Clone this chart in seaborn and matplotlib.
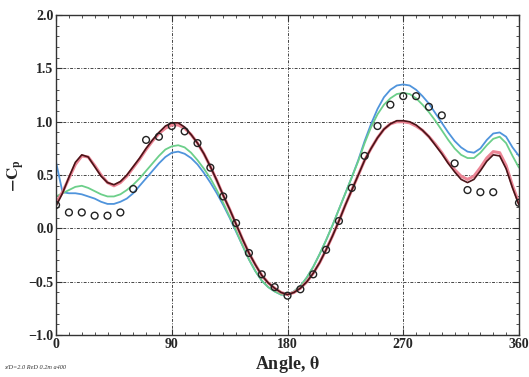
import numpy as np
import pandas as pd
import matplotlib
matplotlib.use("Agg")
import matplotlib.pyplot as plt
from matplotlib.ticker import MultipleLocator
import seaborn as sns

# curve angles, 5 degree steps
theta = list(range(0, 365, 5))

cp_dark = [0.21, 0.33, 0.48, 0.62, 0.69, 0.67, 0.58, 0.49, 0.43, 0.41,
           0.44, 0.50, 0.58, 0.66, 0.75, 0.83, 0.90, 0.96, 0.99, 0.99,
           0.95, 0.88, 0.80, 0.70, 0.58, 0.45, 0.31, 0.18, 0.04, -0.10,
           -0.23, -0.34, -0.44, -0.51, -0.56, -0.60, -0.62, -0.60, -0.56, -0.50,
           -0.42, -0.32, -0.20, -0.07, 0.07, 0.22, 0.36, 0.50, 0.64, 0.75,
           0.85, 0.93, 0.98, 1.01, 1.01, 1.00, 0.97, 0.92, 0.86, 0.78,
           0.70, 0.61, 0.53, 0.46, 0.43, 0.46, 0.54, 0.63, 0.69, 0.68,
           0.56, 0.38, 0.22]

cp_pink = [0.24, 0.34, 0.47, 0.60, 0.68, 0.67, 0.59, 0.50, 0.43, 0.40,
           0.43, 0.49, 0.57, 0.65, 0.74, 0.82, 0.89, 0.94, 0.97, 0.97,
           0.94, 0.88, 0.80, 0.70, 0.58, 0.45, 0.31, 0.18, 0.04, -0.10,
           -0.23, -0.34, -0.44, -0.51, -0.56, -0.60, -0.62, -0.60, -0.56, -0.50,
           -0.42, -0.32, -0.20, -0.07, 0.07, 0.22, 0.36, 0.50, 0.64, 0.75,
           0.85, 0.93, 0.98, 1.00, 1.00, 0.99, 0.96, 0.92, 0.86, 0.79,
           0.71, 0.62, 0.55, 0.49, 0.46, 0.49, 0.57, 0.66, 0.72, 0.71,
           0.59, 0.40, 0.24]

cp_green = [0.30, 0.33, 0.36, 0.39, 0.40, 0.38, 0.35, 0.32, 0.30, 0.30,
            0.32, 0.36, 0.41, 0.47, 0.54, 0.61, 0.68, 0.74, 0.77, 0.78,
            0.76, 0.71, 0.64, 0.56, 0.47, 0.36, 0.24, 0.11, -0.02, -0.16,
            -0.29, -0.40, -0.49, -0.55, -0.59, -0.62, -0.62, -0.59, -0.54, -0.46,
            -0.36, -0.24, -0.11, 0.03, 0.18, 0.33, 0.48, 0.63, 0.80, 0.95,
            1.07, 1.16, 1.22, 1.26, 1.27, 1.26, 1.22, 1.16, 1.09, 1.01,
            0.92, 0.83, 0.75, 0.69, 0.66, 0.66, 0.71, 0.78, 0.84, 0.86,
            0.80, 0.68, 0.57]

cp_blue = [0.62, 0.34, 0.33, 0.33, 0.32, 0.30, 0.28, 0.25, 0.23, 0.23,
           0.25, 0.28, 0.33, 0.40, 0.47, 0.54, 0.61, 0.67, 0.71, 0.72,
           0.70, 0.66, 0.60, 0.52, 0.43, 0.33, 0.22, 0.10, -0.03, -0.16,
           -0.29, -0.40, -0.49, -0.55, -0.59, -0.62, -0.62, -0.59, -0.54, -0.46,
           -0.36, -0.24, -0.11, 0.03, 0.18, 0.33, 0.48, 0.64, 0.82, 0.98,
           1.12, 1.23, 1.30, 1.34, 1.35, 1.34, 1.30, 1.24, 1.17, 1.08,
           0.99, 0.90, 0.82, 0.76, 0.72, 0.71, 0.75, 0.83, 0.89, 0.90,
           0.86, 0.76, 0.68]

# experiment, 10 degree steps
exp_theta = [0, 10, 20, 30, 40, 50, 60, 70, 80, 90, 100, 110, 120, 130, 140,
             150, 160, 170, 180, 190, 200, 210, 220, 230, 240, 250, 260, 270,
             280, 290, 300, 310, 320, 330, 340, 360]
exp_cp = [0.22, 0.15, 0.15, 0.12, 0.12, 0.15, 0.37, 0.83, 0.86, 0.96, 0.91,
          0.80, 0.57, 0.30, 0.05, -0.23, -0.43, -0.55, -0.63, -0.57, -0.43,
          -0.20, 0.07, 0.38, 0.68, 0.96, 1.16, 1.24, 1.24, 1.14, 1.06, 0.61,
          0.36, 0.34, 0.34, 0.24]

series_names = ["dark", "pink", "green", "blue"]
series_colors = {"dark": "#4a1418", "pink": "#ec8595", "green": "#6ccf8a", "blue": "#4f94dc"}
series_widths = {"dark": 1.2, "pink": 2.2, "green": 1.3, "blue": 1.3}

df = pd.DataFrame({
    "theta": theta * 4,
    "cp": cp_dark + cp_pink + cp_green + cp_blue,
    "case": [n for n in series_names for _ in theta],
})
df_exp = pd.DataFrame({"theta": exp_theta, "cp": exp_cp})

sns.set_style("ticks")
plt.rcParams["font.family"] = ["Liberation Serif", "DejaVu Serif"]
plt.rcParams["mathtext.fontset"] = "stix"

fig = plt.figure(figsize=(5.29, 3.77), dpi=100)
ax = fig.add_axes([0.106, 0.111, 0.875, 0.849])

# draw pink under dark, as in the reference
for name in ["blue", "green", "pink", "dark"]:
    sns.lineplot(data=df[df["case"] == name], x="theta", y="cp", color=series_colors[name],
                 lw=series_widths[name], ax=ax, legend=False)
sns.scatterplot(data=df_exp, x="theta", y="cp", marker="o", s=24, facecolor="none",
                edgecolor="#222222", linewidth=1.0, ax=ax, zorder=5)

ax.set_xlim(0, 360)
ax.set_ylim(-1.0, 2.0)
ax.xaxis.set_major_locator(MultipleLocator(90))
ax.xaxis.set_minor_locator(MultipleLocator(10))
ax.yaxis.set_major_locator(MultipleLocator(0.5))
ax.yaxis.set_minor_locator(MultipleLocator(0.1))
ax.tick_params(which="both", direction="in", top=True, right=True, color="#333333")
ax.tick_params(which="major", length=4, labelsize=10, pad=2)
ax.tick_params(which="minor", length=2.5)
for lab in ax.get_xticklabels() + ax.get_yticklabels():
    lab.set_fontweight("bold")
ax.grid(True, which="major", color="#444444", lw=0.7, linestyle=(0, (3, 1.5, 1, 1.5)))
for sp in ax.spines.values():
    sp.set_color("#333333")
    sp.set_linewidth(1.0)

ax.set_xlabel(r"Angle, $\mathbf{\theta}$", fontsize=13, fontweight="bold", labelpad=2)
ax.set_ylabel(r"$\mathbf{-C_p}$", fontsize=12, labelpad=1)

fig.text(0.008, 0.022, "x/D=2.0 ReD 0.2m a400", fontsize=4.5, style="italic", color="#333333")

fig.savefig("out.png", dpi=100)
